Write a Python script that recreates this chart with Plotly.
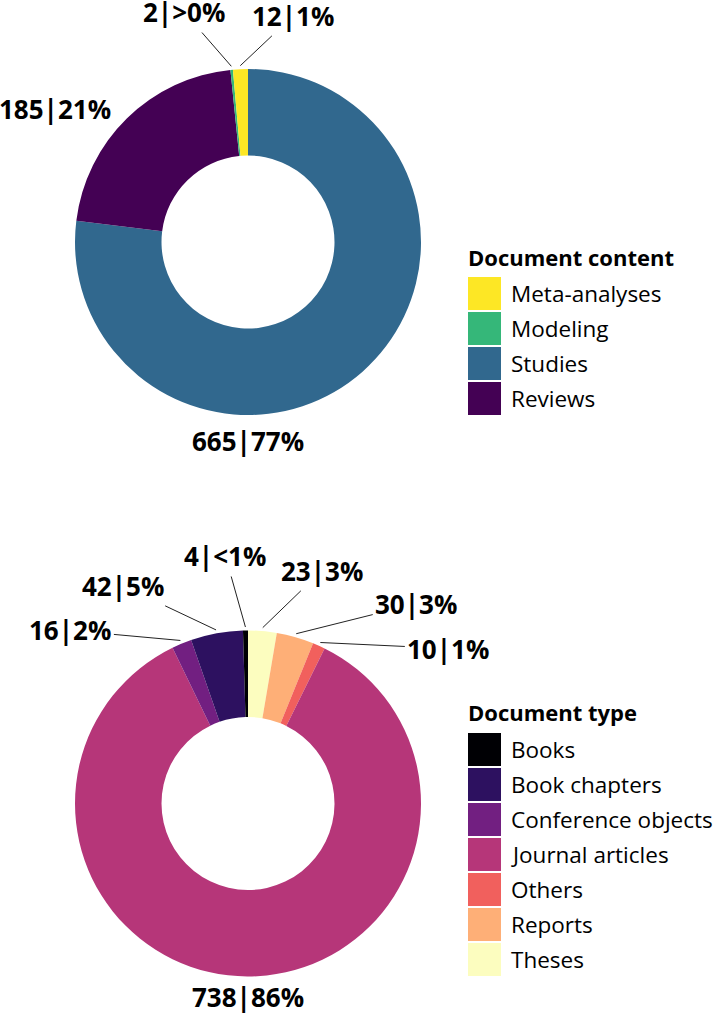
import math
import plotly.graph_objects as go

W, H = 713, 1015

# ---------------- data (slices listed counter-clockwise from 12 o'clock) ----------------
content_labels = ["Meta-analyses", "Modeling", "Reviews", "Studies"]
content_counts = [12, 2, 185, 665]
content_pct = ["1%", ">0%", "21%", "77%"]
content_colors = ["#FDE725", "#35B779", "#440154", "#31688E"]
content_legend_order = ["Meta-analyses", "Modeling", "Studies", "Reviews"]

type_labels = ["Books", "Book chapters", "Conference objects", "Journal articles",
               "Others", "Reports", "Theses"]
type_counts = [4, 42, 16, 738, 10, 30, 23]
type_pct = ["<1%", "5%", "2%", "86%", "1%", "3%", "3%"]
type_colors = ["#000004", "#2D1160", "#721F81", "#B63679", "#F1605D", "#FEAF77", "#FCFDBF"]
type_legend_order = ["Books", "Book chapters", "Conference objects", "Journal articles",
                     "Others", "Reports", "Theses"]

# ---------------- label layout (pixel offsets from the slice edge) ----------------
content_label_dx = [53, -47, -70, -117]
content_label_dy = [-50, -54, -7, 67]
content_leader = [True, True, False, False]

type_label_dx = [-20, -93, -110, 1, 128, 120, 59]
type_label_dy = [-71, -44, -10, 17, 6, -30, -57]
type_leader = [True, True, True, False, True, True, True]

FONT = "Open Sans"


def px_x(x):
    return x / W


def px_y(y):
    return 1 - y / H


fig = go.Figure()
annotations = []
shapes = []


def add_donut(labels, counts, pct, colors, legend_order, cx, cy, R, dxs, dys, leaders,
              title, legend_title_y, legend_key_y):
    # clockwise with reversed lists == counter-clockwise starting exactly at 12 o'clock
    fig.add_trace(go.Pie(
        labels=labels[::-1], values=counts[::-1], sort=False, direction="clockwise",
        rotation=0, hole=0.5, textinfo="none", showlegend=False,
        marker=dict(colors=colors[::-1], line=dict(width=0)),
        domain=dict(x=[px_x(cx - R), px_x(cx + R)], y=[px_y(cy + R), px_y(cy - R)]),
    ))
    total = sum(counts)
    cum = 0
    r_tip = R + 3.5
    for i, v in enumerate(counts):
        mid = (cum + v / 2) / total * 2 * math.pi
        cum += v
        tx = cx - r_tip * math.sin(mid)
        ty = cy - r_tip * math.cos(mid)
        text = f"{v}|{pct[i]}"
        f = dict(family=FONT, size=26, color="black", weight=700)
        if leaders[i]:
            annotations.append(dict(
                x=px_x(tx), y=px_y(ty), xref="paper", yref="paper",
                text=text, showarrow=True, ax=dxs[i], ay=dys[i],
                arrowhead=0, arrowwidth=1, arrowcolor="#222", standoff=0,
                startstandoff=1, font=f))
        else:
            annotations.append(dict(
                x=px_x(tx), y=px_y(ty), xref="paper", yref="paper",
                text=text, showarrow=False, xshift=dxs[i], yshift=-dys[i],
                xanchor="center", yanchor="middle", font=f))
    # legend
    lx = 468
    col = dict(zip(labels, colors))
    annotations.append(dict(
        x=px_x(lx - 2), y=px_y(legend_title_y), xref="paper", yref="paper",
        text=title, showarrow=False, xanchor="left", yanchor="middle",
        font=dict(family=FONT, size=22, color="black", weight=700)))
    for i, lab in enumerate(legend_order):
        y0 = legend_key_y + i * 35
        shapes.append(dict(
            type="rect", xref="paper", yref="paper",
            x0=px_x(lx), x1=px_x(lx + 33), y0=px_y(y0 + 33), y1=px_y(y0),
            fillcolor=col[lab], line=dict(width=0)))
        annotations.append(dict(
            x=px_x(lx + 41), y=px_y(y0 + 16.5), xref="paper", yref="paper",
            text=lab, showarrow=False, xanchor="left", yanchor="middle",
            font=dict(family=FONT, size=22.5, color="black")))


add_donut(content_labels, content_counts, content_pct, content_colors, content_legend_order,
          248, 242, 173, content_label_dx, content_label_dy, content_leader,
          "Document content", 257, 277)
add_donut(type_labels, type_counts, type_pct, type_colors, type_legend_order,
          248, 803.5, 173, type_label_dx, type_label_dy, type_leader,
          "Document type", 712, 733)

fig.update_layout(
    width=W, height=H, margin=dict(l=0, r=0, t=0, b=0),
    paper_bgcolor="white", plot_bgcolor="white",
    annotations=annotations, shapes=shapes, showlegend=False,
)

fig.write_html("out.html")
